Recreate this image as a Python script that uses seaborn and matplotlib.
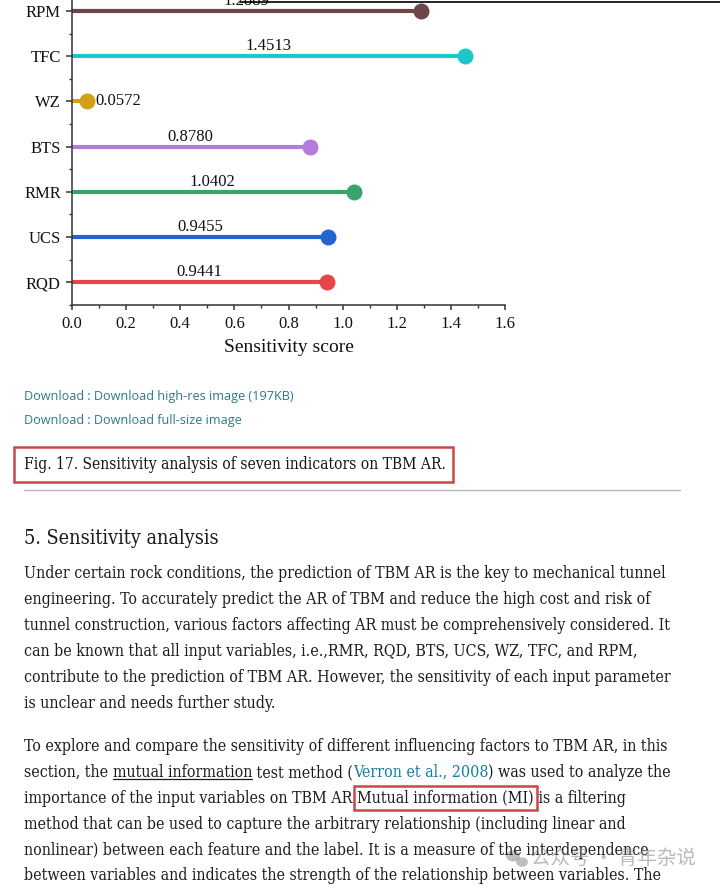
import numpy as np
import pandas as pd
import seaborn as sns
import matplotlib
matplotlib.use("Agg")
import matplotlib.pyplot as plt
from matplotlib import font_manager
from matplotlib.font_manager import FontProperties
from matplotlib.patches import Rectangle, Ellipse
from matplotlib.lines import Line2D

# ---------------- chart data ----------------
indicators = ["RQD", "UCS", "RMR", "BTS", "WZ", "TFC", "RPM"]
scores = [0.9441, 0.9455, 1.0402, 0.8780, 0.0572, 1.4513, 1.2889]
value_labels = ["0.9441", "0.9455", "1.0402", "0.8780", "0.0572", "1.4513", "1.2889"]
colors = ["#e8454a", "#2563cf", "#3aa56a", "#b57bdc", "#d4a017", "#1ec6cc", "#6e4548"]
xticks = [0.0, 0.2, 0.4, 0.6, 0.8, 1.0, 1.2, 1.4, 1.6]
xtick_labels = ["0.0", "0.2", "0.4", "0.6", "0.8", "1.0", "1.2", "1.4", "1.6"]
xlabel = "Sensitivity score"

# ---------------- page text ----------------
download_lines = ["Download : Download high-res image (197KB)",
                  "Download : Download full-size image"]
caption = "Fig. 17. Sensitivity analysis of seven indicators on TBM AR."
heading = "5. Sensitivity analysis"
para1 = [
    "Under certain rock conditions, the prediction of TBM AR is the key to mechanical tunnel",
    "engineering. To accurately predict the AR of TBM and reduce the high cost and risk of",
    "tunnel construction, various factors affecting AR must be comprehensively considered. It",
    "can be known that all input variables, i.e.,RMR, RQD, BTS, UCS, WZ, TFC, and RPM,",
    "contribute to the prediction of TBM AR. However, the sensitivity of each input parameter",
    "is unclear and needs further study.",
]
para2_line1 = "To explore and compare the sensitivity of different influencing factors to TBM AR, in this"
para2_line2 = [("section, the ", "n"), ("mutual information", "u"), (" test method (", "n"),
               ("Verron et al., 2008", "l"), (") was used to analyze the", "n")]
para2_line3 = [("importance of the input variables on TBM AR ", "n"),
               ("Mutual information (MI)", "n"), (" is a filtering", "n")]
para2_rest = [
    "method that can be used to capture the arbitrary relationship (including linear and",
    "nonlinear) between each feature and the label. It is a measure of the interdependence",
    "between variables and indicates the strength of the relationship between variables. The",
]
watermark = "公众号 · 青年杂说"

sns.set_theme(style="ticks")
plt.rcParams["font.family"] = ["Liberation Serif", "DejaVu Serif"]

W, H = 720, 886
fig = plt.figure(figsize=(W / 100, H / 100), dpi=100)
fig.patch.set_facecolor("white")


def fx(x):
    return x / W


def fy(y):
    return 1 - y / H


# ---------------- chart ----------------
ax = fig.add_axes([72 / W, 1 - 305 / H, 433 / W, 316.6 / H])
ax.set_facecolor("white")
df = pd.DataFrame({"indicator": indicators, "score": scores})
order = indicators[::-1]
palette = dict(zip(indicators, colors))
pos = [order.index(c) for c in indicators]
ax.hlines(pos, 0, scores, colors=colors, lw=3, zorder=2)
sns.stripplot(data=df, x="score", y="indicator", order=order, hue="indicator",
              palette=palette, jitter=False, size=11.5, linewidth=0, legend=False,
              ax=ax, zorder=3)
for i, c in enumerate(indicators):
    if scores[i] < 0.2:
        ax.annotate(value_labels[i], (scores[i], pos[i]), xytext=(6, 0),
                    textcoords="offset points", ha="left", va="center",
                    fontsize=12, color="#111111")
    else:
        ax.text(scores[i] / 2, pos[i] - 0.13, value_labels[i], ha="center",
                va="baseline", fontsize=12, color="#111111")

ax.set_xlim(0, 1.6)
ax.set_ylim(6.504, -0.5)
ax.set_xticks(xticks)
ax.set_xticklabels(xtick_labels)
ax.set_xticks(np.arange(0.1, 1.6, 0.2), minor=True)
ax.set_yticks(np.arange(-0.5, 7, 1.0), minor=True)
ax.set_ylabel("")
ax.set_xlabel(xlabel, fontsize=14, labelpad=5, color="#111111")
for s in ["top", "right"]:
    ax.spines[s].set_visible(False)
for s in ["left", "bottom"]:
    ax.spines[s].set_color("#333333")
    ax.spines[s].set_linewidth(1.1)
ax.tick_params(axis="both", which="major", direction="out", width=1.1,
               color="#333333", labelsize=12, labelcolor="#111111")
ax.tick_params(axis="x", which="major", length=3.8, pad=4)
ax.tick_params(axis="y", which="major", length=4.5, pad=3.5)
ax.tick_params(axis="both", which="minor", direction="out", length=2.5,
               width=1.0, color="#333333")

# thin black page rule at the very top (screenshot edge)
fig.add_artist(Line2D([fx(240), 1.0], [fy(1.5), fy(1.5)], color="black", lw=1.2,
                      zorder=10))

# ---------------- page text ----------------
renderer = fig.canvas.get_renderer()

# prefer a condensed serif for the page text when one is installed
cond_path = font_manager.findfont(FontProperties(family="DejaVu Serif", stretch="condensed"),
                                  fallback_to_default=False)
if "Condensed" in cond_path:
    body_fp = dict(family="DejaVu Serif", fontstretch="condensed")
else:
    body_fp = dict(family=["Liberation Serif", "DejaVu Serif"])
sans_fp = dict(family=["Open Sans", "DejaVu Sans"])
cjk_fp = dict(family=["Noto Sans CJK SC", "DejaVu Sans"])


def seg_width(s, fs, fp):
    a = fig.text(0, 0, "|" + s + "|", fontsize=fs, **fp)
    b = fig.text(0, 0, "||", fontsize=fs, **fp)
    w = a.get_window_extent(renderer).width - b.get_window_extent(renderer).width
    a.remove()
    b.remove()
    return w


def fit(s, fp, target):
    return 20 * target / seg_width(s, 20, fp)


text_color = "#1c1c1c"
teal = "#2b7a8e"
link = "#127ea0"

# download links
fs_dl = fit(download_lines[0], sans_fp, 268)
for line, y in zip(download_lines, [400, 424]):
    fig.text(fx(24), fy(y), line, fontsize=fs_dl, color=teal, va="baseline",
             ha="left", **sans_fp)

# caption with red box
fs_cap = fit(caption, body_fp, 422)
fig.text(fx(24), fy(469), caption, fontsize=fs_cap, color="#151515",
         va="baseline", ha="left", **body_fp)
fig.add_artist(Rectangle((fx(14), fy(482)), fx(453) - fx(14), fy(447) - fy(482),
                         transform=fig.transFigure, fill=False,
                         edgecolor="#c9464b", lw=1.8))
fig.add_artist(Line2D([fx(24), fx(680)], [fy(490), fy(490)], color="#b9b9b9", lw=1.0))

# heading
fs_h = fit(heading, body_fp, 195)
fig.text(fx(24), fy(544), heading, fontsize=fs_h, color=text_color,
         va="baseline", ha="left", **body_fp)

# body
fs_b = fit(para1[0], body_fp, 643)
for i, line in enumerate(para1):
    fig.text(fx(24), fy(578 + 25.9 * i), line, fontsize=fs_b, color=text_color,
             va="baseline", ha="left", **body_fp)


def draw_segments(x, baseline, segments):
    spans = []
    for txt, kind in segments:
        col = link if kind == "l" else text_color
        fig.text(fx(x), fy(baseline), txt, fontsize=fs_b, color=col,
                 va="baseline", ha="left", **body_fp)
        w = seg_width(txt, fs_b, body_fp)
        if kind == "u":
            fig.add_artist(Line2D([fx(x), fx(x + w)], [fy(baseline + 2.5)] * 2,
                                  color=text_color, lw=0.9))
        spans.append((x, x + w))
        x += w
    return spans


b0 = 751
fig.text(fx(24), fy(b0), para2_line1, fontsize=fs_b, color=text_color,
         va="baseline", ha="left", **body_fp)
draw_segments(24, b0 + 25.9, para2_line2)
spans = draw_segments(24, b0 + 2 * 25.9, para2_line3)
mx0, mx1 = spans[1]
fig.add_artist(Rectangle((fx(mx0 - 3), fy(810)), fx(mx1 + 3) - fx(mx0 - 3), fy(786) - fy(810),
                         transform=fig.transFigure, fill=False,
                         edgecolor="#c9464b", lw=1.8))
for i, line in enumerate(para2_rest):
    fig.text(fx(24), fy(b0 + (3 + i) * 25.9), line, fontsize=fs_b, color=text_color,
             va="baseline", ha="left", **body_fp)

# watermark
fig.add_artist(Ellipse((fx(513), fy(856)), 14 / W, 11 / H, transform=fig.transFigure,
                       color="#8c8c8c", alpha=0.55, lw=0))
fig.add_artist(Ellipse((fx(522), fy(862)), 12 / W, 9.5 / H, transform=fig.transFigure,
                       color="#8c8c8c", alpha=0.55, lw=0))
fs_w = fit(watermark, cjk_fp, 165)
fig.text(fx(531), fy(858), watermark, fontsize=fs_w, color="#8c8c8c", alpha=0.6,
         va="center", ha="left", **cjk_fp)

fig.savefig("out.png", dpi=100, facecolor="white")
